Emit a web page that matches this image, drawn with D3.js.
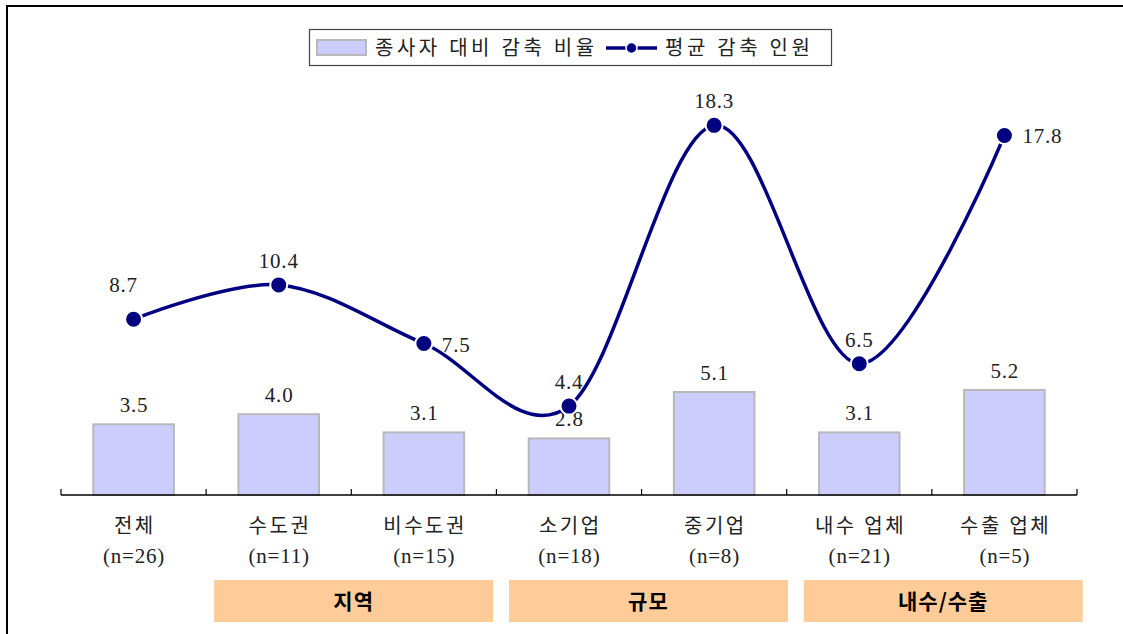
<!DOCTYPE html>
<html><head><meta charset="utf-8">
<script src="https://cdn.jsdelivr.net/npm/d3@7"></script>
<style>
html,body{margin:0;padding:0;background:#fff;}
svg{display:block;}
</style></head>
<body>
<svg id="chart" width="1123" height="634"></svg>
<script>
// ---- data ----
const categories = ["전체", "수도권", "비수도권", "소기업", "중기업", "내수 업체", "수출 업체"];
const sampleSizes = ["(n=26)", "(n=11)", "(n=15)", "(n=18)", "(n=8)", "(n=21)", "(n=5)"];
const ratioValues = [3.5, 4.0, 3.1, 2.8, 5.1, 3.1, 5.2];        // 종사자 대비 감축 비율
const avgValues = [8.7, 10.4, 7.5, 4.4, 18.3, 6.5, 17.8];       // 평균 감축 인원
const groupNames = ["지역", "규모", "내수/수출"];
const groupStart = [1, 3, 5];
const groupEnd = [2, 4, 6];
const seriesNames = ["종사자 대비 감축 비율", "평균 감축 인원"];

// ---- styling / layout (not data) ----
const labelPlacement = ["aboveLeft", "above", "right", "above", "above", "above", "right"];
const serif = "'Liberation Serif','Noto Sans CJK KR',serif";
const sansKR = "'Noto Sans CJK KR','Noto Sans',sans-serif";
const navy = "#000080";
const numSize = 21;
const numSpacing = 0.8;
const krSize = 20;
const krSpacing = 2.5;
const legendSpacing = 3.5;

const svg = d3.select("#chart");

// frame
svg.append("path").attr("d", "M7,640 L7,6 L1130,6").attr("fill", "none").attr("stroke", "#000").attr("stroke-width", 2);

const x = d3.scaleBand().domain(categories).range([61, 1077]).padding(0);
const y = d3.scaleLinear().domain([0, 20]).range([495, 91]);
const bw = x.bandwidth() * 0.555;

// bars
svg.append("g").selectAll("rect").data(categories).join("rect")
  .attr("x", d => x(d) + (x.bandwidth() - bw) / 2)
  .attr("y", (d, i) => y(ratioValues[i]))
  .attr("width", bw)
  .attr("height", (d, i) => y(0) - y(ratioValues[i]))
  .attr("fill", "#ccccff").attr("stroke", "#b8b8b8").attr("stroke-width", 2);

// bar labels
svg.append("g").selectAll("text").data(categories).join("text")
  .attr("x", d => x(d) + x.bandwidth() / 2 + numSpacing / 2)
  .attr("y", (d, i) => y(ratioValues[i]) - 12)
  .attr("text-anchor", "middle")
  .attr("font-family", serif).attr("font-size", numSize).attr("letter-spacing", numSpacing).attr("fill", "#222")
  .text((d, i) => ratioValues[i].toFixed(1));

// axis
const axisG = svg.append("g");
axisG.append("line").attr("x1", 61).attr("x2", 1077).attr("y1", y(0)).attr("y2", y(0))
  .attr("stroke", "#000").attr("stroke-width", 1.5);
const tickXs = categories.map(c => x(c)).concat([x.range()[1]]);
axisG.selectAll(".tk").data(tickXs).join("line")
  .attr("x1", d => d).attr("x2", d => d).attr("y1", y(0)).attr("y2", y(0) - 6)
  .attr("stroke", "#000").attr("stroke-width", 1.2);

// category labels
const catG = svg.append("g").attr("font-family", serif).attr("fill", "#222").attr("text-anchor", "middle");
catG.selectAll(".c1").data(categories).join("text")
  .attr("x", d => x(d) + x.bandwidth() / 2 + krSpacing / 2).attr("y", 533)
  .attr("font-size", krSize).attr("letter-spacing", krSpacing).text(d => d);
catG.selectAll(".c2").data(sampleSizes).join("text")
  .attr("x", (d, i) => x(categories[i]) + x.bandwidth() / 2 + numSpacing / 2).attr("y", 563)
  .attr("font-size", numSize).attr("letter-spacing", numSpacing).text(d => d);

// line
const pts = categories.map((c, i) => [x(c) + x.bandwidth() / 2, y(avgValues[i])]);
svg.append("path").datum(pts)
  .attr("d", d3.line().curve(d3.curveCardinal.tension(0)))
  .attr("fill", "none").attr("stroke", navy).attr("stroke-width", 3.5);
svg.append("g").selectAll("circle").data(pts).join("circle")
  .attr("cx", d => d[0]).attr("cy", d => d[1]).attr("r", 8.5)
  .attr("fill", navy).attr("stroke", "#fff").attr("stroke-width", 2);

// line labels
const lbl = svg.append("g").attr("font-family", serif).attr("font-size", numSize).attr("letter-spacing", numSpacing).attr("fill", "#222");
lbl.selectAll("text").data(avgValues).join("text")
  .attr("x", (d, i) => {
    const p = labelPlacement[i];
    if (p === "right") return pts[i][0] + 18;
    if (p === "aboveLeft") return pts[i][0] - 10;
    return pts[i][0];
  })
  .attr("y", (d, i) => {
    const p = labelPlacement[i];
    if (p === "right") return pts[i][1] + 8;
    if (p === "aboveLeft") return pts[i][1] - 27;
    return pts[i][1] - 17;
  })
  .attr("text-anchor", (d, i) => labelPlacement[i] === "right" ? "start" : "middle")
  .text(d => d.toFixed(1));

// group boxes
const gG = svg.append("g");
groupNames.forEach((g, gi) => {
  const x0 = x(categories[groupStart[gi]]) + 8 + gi * 4.5;
  const w = 279;
  gG.append("rect").attr("x", x0).attr("y", 580).attr("width", w).attr("height", 42).attr("fill", "#ffcc99");
  gG.append("text").attr("x", x0 + w / 2).attr("y", 609).attr("text-anchor", "middle")
    .attr("font-family", sansKR).attr("font-weight", "bold").attr("font-size", 21).attr("letter-spacing", 1).attr("fill", "#000")
    .text(g);
});

// legend
const lg = svg.append("g");
lg.append("rect").attr("x", 309.5).attr("y", 29.5).attr("width", 522).attr("height", 36)
  .attr("fill", "#fff").attr("stroke", "#444").attr("stroke-width", 1.2);
lg.append("rect").attr("x", 317).attr("y", 40).attr("width", 49).attr("height", 15)
  .attr("fill", "#ccccff").attr("stroke", "#b8b8b8").attr("stroke-width", 2);
lg.append("text").attr("x", 375).attr("y", 55).attr("font-family", serif).attr("font-size", krSize)
  .attr("letter-spacing", legendSpacing).attr("fill", "#222").text(seriesNames[0]);
lg.append("line").attr("x1", 606).attr("x2", 657).attr("y1", 48).attr("y2", 48).attr("stroke", navy).attr("stroke-width", 3.5);
lg.append("circle").attr("cx", 631.5).attr("cy", 48).attr("r", 5.5).attr("fill", navy).attr("stroke", "#fff").attr("stroke-width", 1.5);
lg.append("text").attr("x", 665).attr("y", 55).attr("font-family", serif).attr("font-size", krSize)
  .attr("letter-spacing", legendSpacing).attr("fill", "#222").text(seriesNames[1]);
</script>
</body></html>
